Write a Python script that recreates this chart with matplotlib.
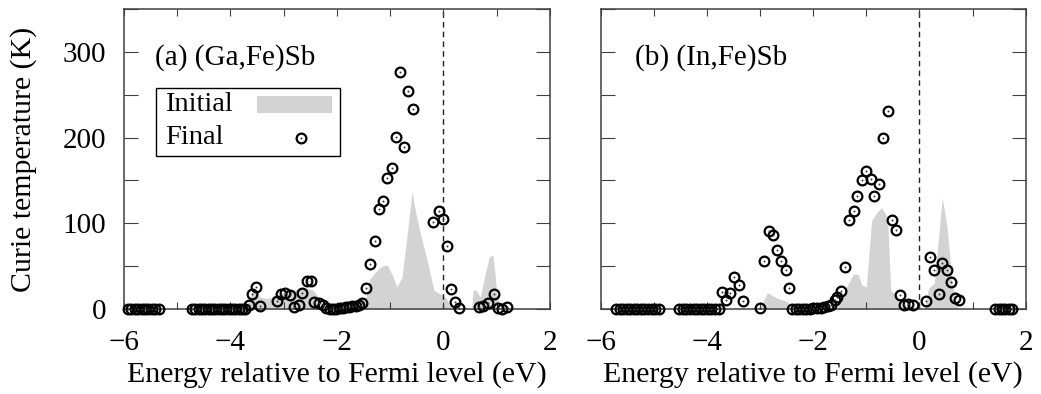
import numpy as np
import matplotlib
matplotlib.use("Agg")
import matplotlib.pyplot as plt
from matplotlib.patches import Rectangle

plt.rcParams['font.family'] = ['Liberation Serif', 'DejaVu Serif']
plt.rcParams['mathtext.fontset'] = 'stix'

# ---- (a) (Ga,Fe)Sb ----
ga_init_e = [-3.75, -3.65, -3.55, -3.45, -3.3, -3.1, -2.9, -2.7, -2.55, -2.45, -2.35, -2.2, -2.1,
             -1.55, -1.45, -1.38, -1.31, -1.2, -1.125, -1.05, -0.95, -0.875, -0.78, -0.68, -0.59,
             -0.52, -0.44, -0.3, -0.18, -0.08, 0.0, 0.06, 0.125, 0.2,
             0.53, 0.56, 0.61, 0.69, 0.78, 0.86, 0.93, 0.97, 1.0, 1.06]
ga_init_tc = [0, 10, 25, 14, 12, 17, 20, 24, 24, 22, 14, 5, 0,
              0, 15, 35, 41, 48, 51, 51, 38, 26, 37, 88, 137,
              112, 90, 55, 22, 18, 16, 12, 3, 0,
              0, 22, 22, 14, 40, 61, 63, 40, 18, 0]

ga_final_e = [-5.92, -5.86, -5.80, -5.73, -5.67, -5.61, -5.54, -5.48, -5.42, -5.35,
              -4.73, -4.67, -4.60, -4.54, -4.48, -4.41, -4.35, -4.29, -4.22, -4.16, -4.10,
              -4.03, -3.97, -3.91, -3.84, -3.78, -3.72, -3.66, -3.60, -3.53, -3.45,
              -3.125, -3.05, -2.97, -2.89, -2.81, -2.72, -2.66, -2.56, -2.49, -2.43, -2.34,
              -2.26, -2.20, -2.13, -2.07, -2.01, -1.95, -1.89, -1.83, -1.77, -1.71, -1.65,
              -1.59, -1.53, -1.45, -1.375, -1.29, -1.22, -1.14, -1.06, -0.97, -0.89, -0.81,
              -0.75, -0.66, -0.575, -0.19, -0.09, -0.01, 0.06, 0.14, 0.22, 0.30,
              0.675, 0.75, 0.84, 0.94, 1.02, 1.10, 1.19]
ga_final_tc = [0, 0, 0, 0, 0, 0, 0, 0, 0, 0,
               0, 0, 0, 0, 0, 0, 0, 0, 0, 0, 0,
               0, 0, 0, 0, 0, 0, 4.6, 17, 26, 3,
               9, 18, 19, 16, 2.7, 4.6, 19, 33, 33, 8.5, 7.3,
               4.6, 1.5, 0, 0, 0.5, 1, 1.5, 2, 2.5, 3, 4,
               5, 7.5, 24, 52, 79, 117, 126, 153, 165, 201, 276,
               189, 254, 233, 101, 114, 105, 73, 23, 8.5, 0.8,
               2, 3.5, 7.3, 18, 0.8, 0, 2]

# ---- (b) (In,Fe)Sb ----
in_init_e = [-3.05, -2.95, -2.86, -2.69, -2.5, -2.42, -2.38,
             -1.55, -1.45, -1.37, -1.24, -1.15, -1.085, -1.0, -0.90, -0.80, -0.71, -0.60,
             -0.54, -0.43, -0.33, -0.30,
             0.08, 0.11, 0.17, 0.28, 0.36, 0.43, 0.52, 0.61, 0.69, 0.73]
in_init_tc = [0, 8, 19, 13, 9, 5, 0,
              0, 14, 26, 41, 40, 28, 26, 103, 113, 118, 107,
              22, 16, 3, 0,
              0, 3, 24, 30, 84, 130, 96, 34, 5, 0]

in_final_e = [-5.71, -5.64, -5.58, -5.51, -5.44, -5.38, -5.31, -5.24, -5.18, -5.11, -5.04,
              -4.98, -4.91,
              -4.52, -4.45, -4.39, -4.32, -4.25, -4.18, -4.12, -4.05, -3.98, -3.92, -3.85,
              -3.78, -3.72, -3.64, -3.57, -3.49, -3.40, -3.33,
              -3.01, -2.92, -2.84, -2.76, -2.69, -2.61, -2.52, -2.45,
              -2.40, -2.33, -2.27, -2.20, -2.13, -2.06, -2.00, -1.93, -1.86, -1.80, -1.73,
              -1.66, -1.59, -1.55, -1.47, -1.40, -1.32, -1.24, -1.17, -1.085, -1.0, -0.915,
              -0.85, -0.76, -0.68, -0.60, -0.52, -0.44, -0.36, -0.29, -0.21, -0.125,
              0.12, 0.20, 0.28, 0.36, 0.43, 0.52, 0.60, 0.67, 0.75,
              1.43, 1.49, 1.55, 1.61, 1.68, 1.74]
in_final_tc = [0, 0, 0, 0, 0, 0, 0, 0, 0, 0, 0,
               0, 0,
               0, 0, 0, 0, 0, 0, 0, 0, 0, 0, 0,
               0, 20, 10.5, 19, 37.6, 28, 9.7,
               0.8, 56, 91, 86, 69, 56, 46, 25,
               0, 0, 0, 0, 0, 0.5, 1, 1, 1.5, 2, 3,
               5, 10, 14, 21, 49, 104, 114, 132, 150, 161, 152,
               132, 146, 200, 231, 104, 92, 16, 4.6, 5.4, 4.6,
               9, 61, 45, 17.4, 54, 45, 32, 12.4, 10.5,
               0, 0, 0, 0, 0, 0]

panels = [("(a) (Ga,Fe)Sb", ga_init_e, ga_init_tc, ga_final_e, ga_final_tc),
          ("(b) (In,Fe)Sb", in_init_e, in_init_tc, in_final_e, in_final_tc)]

GRAY = '#d3d3d3'
FRAME = '#404040'
FS = 21
MS = 7.0
MEW = 1.6

fig = plt.figure(figsize=(10.41, 3.94), dpi=100)
ax_pos = [[0.1191, 0.2157, 0.4092, 0.7614], [0.5770, 0.2157, 0.4083, 0.7614]]

for i, (title, ie, itc, fe, ftc) in enumerate(panels):
    ax = fig.add_axes(ax_pos[i])
    ax.fill_between(ie, 0, itc, color=GRAY, lw=0, zorder=1)
    ax.axvline(0, color='#222222', lw=1.0, ls=(0, (4, 3)), zorder=1.5)
    ax.plot(fe, ftc, ls='none', marker='o', ms=MS, mfc='none', mec='black',
            mew=MEW, clip_on=False, zorder=3)
    ax.plot(fe, ftc, ls='none', marker='o', ms=1.4, mfc='#333333', mec='none',
            clip_on=False, zorder=3)

    ax.set_xlim(-6, 2)
    ax.set_ylim(0, 350)
    ax.set_xticks([-6, -4, -2, 0, 2])
    ax.set_xticks(np.arange(-6, 3, 1), minor=True)
    ax.set_yticks([0, 100, 200, 300])
    ax.set_yticks(np.arange(0, 351, 50), minor=True)
    ax.tick_params(axis='both', which='both', direction='in', top=True, right=True,
                   color=FRAME, width=0.8, labelsize=FS)
    ax.tick_params(axis='x', which='both', length=5, pad=15)
    ax.tick_params(axis='y', which='both', length=10, pad=13)
    for s in ax.spines.values():
        s.set_color(FRAME)
        s.set_linewidth(1.1)
    ax.set_xlabel("Energy relative to Fermi level (eV)", fontsize=21.5, labelpad=4)
    if i == 0:
        ax.set_ylabel("Curie temperature (K)", fontsize=21.5, labelpad=18)
    else:
        ax.tick_params(axis='y', labelleft=False)
    ax.text(0.073 if i == 0 else 0.081, 0.839, title, transform=ax.transAxes,
            fontsize=FS, va='center', ha='left')

    if i == 0:
        # key box, gnuplot style: label left, sample right
        ax.add_patch(Rectangle((0.0751, 0.51), 0.432, 0.227, transform=ax.transAxes,
                               fill=False, ec='black', lw=1.0, zorder=4))
        ax.text(0.0962, 0.683, "Initial", transform=ax.transAxes, fontsize=20.5,
                va='center', ha='left', zorder=5)
        ax.text(0.0962, 0.571, "Final", transform=ax.transAxes, fontsize=20.5,
                va='center', ha='left', zorder=5)
        ax.add_patch(Rectangle((0.313, 0.654), 0.176, 0.057, transform=ax.transAxes,
                               fc=GRAY, ec='none', zorder=5))
        ax.plot([0.4155], [0.571], transform=ax.transAxes, ls='none', marker='o',
                ms=MS, mfc='none', mec='black', mew=MEW, zorder=5)
        ax.plot([0.4155], [0.571], transform=ax.transAxes, ls='none', marker='o',
                ms=1.4, mfc='#333333', mec='none', zorder=5)

fig.savefig("out.png", dpi=100)
